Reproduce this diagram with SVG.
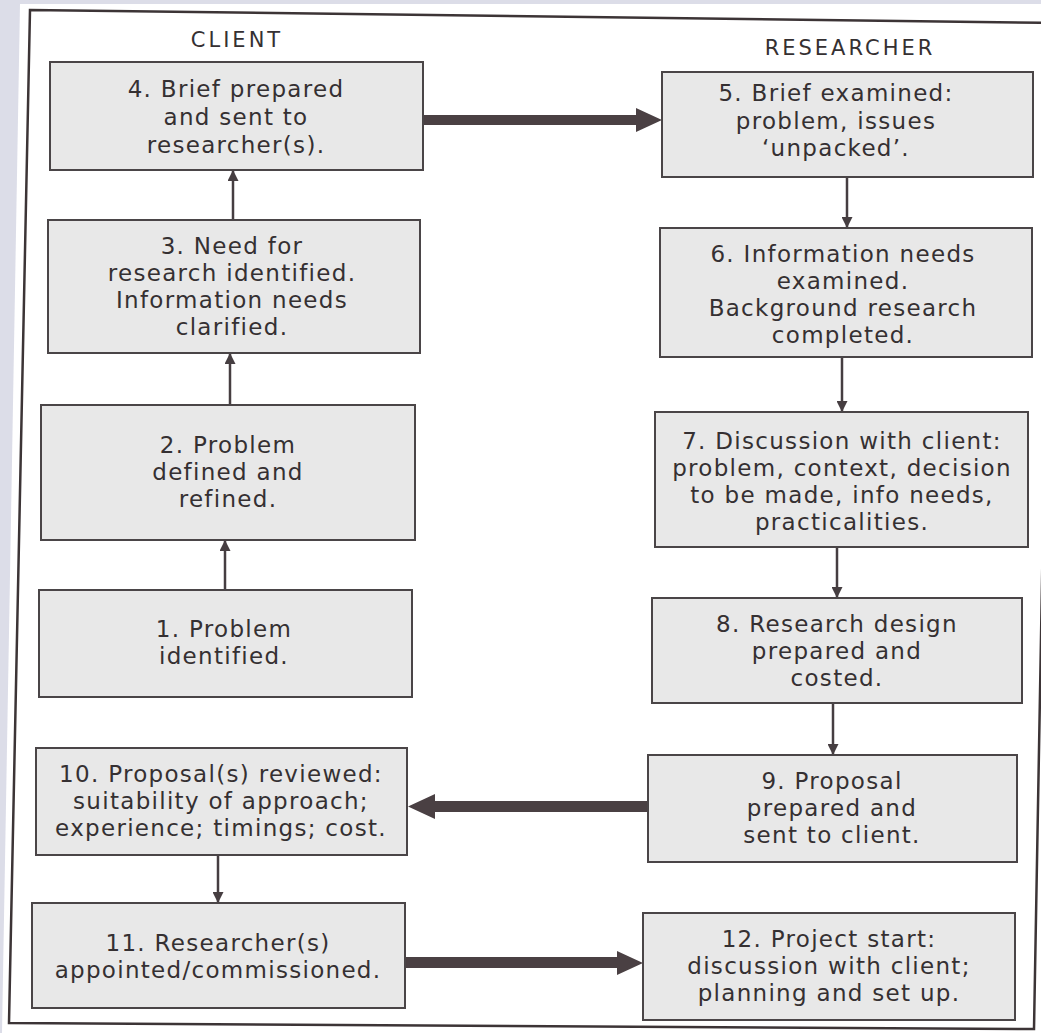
<svg xmlns="http://www.w3.org/2000/svg" width="1041" height="1033" viewBox="0 0 1041 1033">
<defs>
<style>
.box{fill:#e8e8e8;stroke:#4a4547;stroke-width:2}
.t{font-family:"DejaVu Sans",sans-serif;font-size:23px;fill:#353032;text-anchor:middle;letter-spacing:1.3px}
.h{font-family:"DejaVu Sans",sans-serif;font-size:21px;fill:#353032;text-anchor:middle;letter-spacing:3px}
.thin{stroke:#463e41;stroke-width:2.5;fill:none;marker-end:url(#ah)}
.thick{fill:#4a4043}
</style>
<marker id="ah" markerWidth="11" markerHeight="11" refX="10" refY="5.5" orient="auto" markerUnits="userSpaceOnUse">
<path d="M0,0 L11,5.5 L0,11 Z" fill="#463e41"/>
</marker>
</defs>
<rect x="0" y="0" width="1041" height="1033" fill="#dcdde8"/>
<polygon points="20,4 1041,4 1041,1033 2,1033" fill="#ffffff"/>
<polygon points="30,10 1052,23 1034,1029 9,1023" fill="none" stroke="#3c3436" stroke-width="2.5"/>

<text class="h" x="237" y="47">CLIENT</text>
<text class="h" x="850" y="55">RESEARCHER</text>

<g id="connectors">
<line class="thin" x1="225" y1="590" x2="225" y2="541"/>
<line class="thin" x1="230" y1="405" x2="230" y2="354"/>
<line class="thin" x1="233" y1="220" x2="233" y2="171"/>
<line class="thin" x1="847" y1="177" x2="847" y2="227"/>
<line class="thin" x1="842" y1="357" x2="842" y2="411"/>
<line class="thin" x1="837" y1="547" x2="837" y2="597"/>
<line class="thin" x1="833" y1="703" x2="833" y2="754"/>
<line class="thin" x1="218" y1="855" x2="218" y2="902"/>
<path class="thick" d="M423,115 H636 V108 L662,120 L636,132 V125 H423 Z"/>
<path class="thick" d="M648,801 H435 V794 L408,806.5 L435,819 V812 H648 Z"/>
<path class="thick" d="M405,957 H617 V951 L643,963 L617,975 V968 H405 Z"/>
</g>

<g id="n4"><rect class="box" x="50" y="62" width="373" height="108"/>
<text class="t" x="236" y="97">4. Brief prepared</text>
<text class="t" x="236" y="125">and sent to</text>
<text class="t" x="236" y="153">researcher(s).</text></g>

<g id="n3"><rect class="box" x="48" y="220" width="372" height="133"/>
<text class="t" x="232" y="254">3. Need for</text>
<text class="t" x="232" y="281">research identified.</text>
<text class="t" x="232" y="308">Information needs</text>
<text class="t" x="232" y="335">clarified.</text></g>

<g id="n2"><rect class="box" x="41" y="405" width="374" height="135"/>
<text class="t" x="228" y="453">2. Problem</text>
<text class="t" x="228" y="480">defined and</text>
<text class="t" x="228" y="507">refined.</text></g>

<g id="n1"><rect class="box" x="39" y="590" width="373" height="107"/>
<text class="t" x="224" y="637">1. Problem</text>
<text class="t" x="224" y="664">identified.</text></g>

<g id="n10"><rect class="box" x="36" y="748" width="371" height="107"/>
<text class="t" x="221" y="782">10. Proposal(s) reviewed:</text>
<text class="t" x="221" y="809">suitability of approach;</text>
<text class="t" x="221" y="836">experience; timings; cost.</text></g>

<g id="n11"><rect class="box" x="32" y="903" width="373" height="105"/>
<text class="t" x="218" y="951">11. Researcher(s)</text>
<text class="t" x="218" y="978">appointed/commissioned.</text></g>

<g id="n5"><rect class="box" x="662" y="72" width="371" height="105"/>
<text class="t" x="836" y="101">5. Brief examined:</text>
<text class="t" x="836" y="129">problem, issues</text>
<text class="t" x="836" y="156">‘unpacked’.</text></g>

<g id="n6"><rect class="box" x="660" y="228" width="372" height="129"/>
<text class="t" x="843" y="262">6. Information needs</text>
<text class="t" x="843" y="289">examined.</text>
<text class="t" x="843" y="316">Background research</text>
<text class="t" x="843" y="343">completed.</text></g>

<g id="n7"><rect class="box" x="655" y="412" width="373" height="135"/>
<text class="t" x="842" y="449">7. Discussion with client:</text>
<text class="t" x="842" y="476">problem, context, decision</text>
<text class="t" x="842" y="503">to be made, info needs,</text>
<text class="t" x="842" y="530">practicalities.</text></g>

<g id="n8"><rect class="box" x="652" y="598" width="370" height="105"/>
<text class="t" x="837" y="632">8. Research design</text>
<text class="t" x="837" y="659">prepared and</text>
<text class="t" x="837" y="686">costed.</text></g>

<g id="n9"><rect class="box" x="648" y="755" width="369" height="107"/>
<text class="t" x="832" y="789">9. Proposal</text>
<text class="t" x="832" y="816">prepared and</text>
<text class="t" x="832" y="843">sent to client.</text></g>

<g id="n12"><rect class="box" x="643" y="913" width="372" height="107"/>
<text class="t" x="829" y="947">12. Project start:</text>
<text class="t" x="829" y="974">discussion with client;</text>
<text class="t" x="829" y="1001">planning and set up.</text></g>
</svg>
